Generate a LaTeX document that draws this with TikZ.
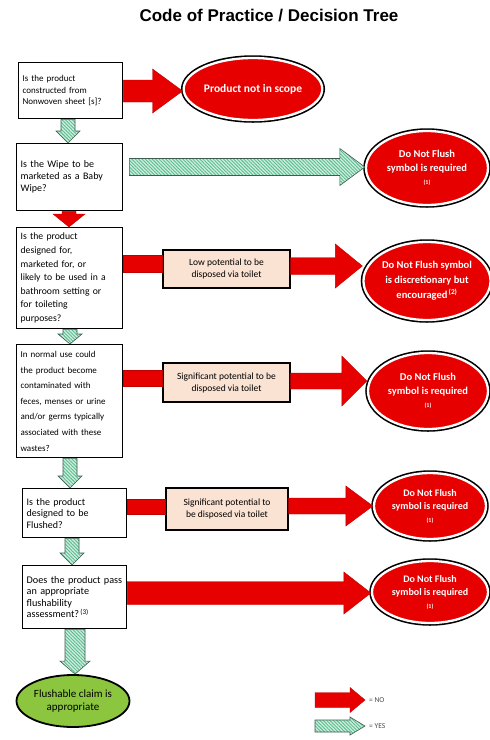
\documentclass[tikz,border=0pt]{standalone}
\usepackage{fontspec}
\setmainfont{Carlito}
\newfontfamily\titlefont{Liberation Sans}
\usetikzlibrary{shapes.geometric,patterns.meta,calc}
\definecolor{nored}{HTML}{E60000}
\definecolor{noedge}{HTML}{C00000}
\definecolor{yesfill}{HTML}{CDEFDF}
\definecolor{yesline}{HTML}{5DBB8F}
\definecolor{yesedge}{HTML}{3E5E50}
\definecolor{peach}{HTML}{FBE3D4}
\definecolor{okgreen}{HTML}{8CC63F}
% horizontal block arrow: style, from, to, y(px), shaft half, head half, head length
\newcommand\harr[7]{%
  \path[#1] let \p1=(#2), \p2=(#3) in
    ({\x1},{-#4pt+#5pt}) -- ({\x2-#7pt},{-#4pt+#5pt}) -- ({\x2-#7pt},{-#4pt+#6pt})
    -- ({\x2},{-#4pt}) -- ({\x2-#7pt},{-#4pt-#6pt}) -- ({\x2-#7pt},{-#4pt-#5pt})
    -- ({\x1},{-#4pt-#5pt}) -- cycle;}
% horizontal bar: style, from, to, y(px), half height
\newcommand\hbarr[5]{%
  \path[#1] let \p1=(#2), \p2=(#3) in
    ({\x1},{-#4pt+#5pt}) rectangle ({\x2},{-#4pt-#5pt});}
% vertical block arrow (down): style, from, to, x(px), shaft half, head half, head length
\newcommand\varr[7]{%
  \path[#1] let \p1=(#2), \p2=(#3) in
    ({#4pt-#5pt},{\y1}) -- ({#4pt-#5pt},{\y2+#7pt}) -- ({#4pt-#6pt},{\y2+#7pt})
    -- ({#4pt},{\y2}) -- ({#4pt+#6pt},{\y2+#7pt}) -- ({#4pt+#5pt},{\y2+#7pt})
    -- ({#4pt+#5pt},{\y1}) -- cycle;}
\begin{document}
\begin{tikzpicture}[x=1pt,y=-1pt,
  qbox/.style={draw=black, line width=1.3pt, fill=white, anchor=north west,
    inner sep=4pt, align=left, font=\fontsize{9}{11.5}\selectfont},
  lbox/.style={draw=black, line width=1.2pt, fill=peach, align=center,
    font=\fontsize{9.5}{12}\selectfont, inner sep=2pt},
  redell/.style={ellipse, preaction={draw=black, line width=5.5pt}, draw=white,
    line width=2.3pt, fill=nored, text=white, align=center, inner sep=0pt,
    font=\bfseries\fontsize{10.5}{13.5}\selectfont},
  greenell/.style={ellipse, draw=black, line width=1.8pt, fill=okgreen,
    align=center, inner sep=0pt, font=\fontsize{11}{13.5}\selectfont},
  noarrow/.style={fill=nored, draw=noedge, line width=0.4pt},
  yesarrow/.style={preaction={fill=yesfill}, draw=yesedge, line width=0.6pt,
    pattern={Lines[angle=-45,distance=2.4pt,line width=0.9pt]}, pattern color=yesline},
  legtext/.style={anchor=west, font=\fontsize{7.5}{9}\selectfont, text=black!70, inner sep=1pt}]
\useasboundingbox (0,0) rectangle (490,740);
\fill[white] (0,0) rectangle (490,740);

\node[font=\titlefont\bfseries\fontsize{17}{20}\selectfont] (title) at (269,16)
  {Code of Practice / Decision Tree};

% question boxes
\node[qbox, minimum width=104pt, minimum height=56pt, text width=96pt] (b1) at (18,62)
  {Is the product\\constructed from\\Nonwoven sheet [s]?};
\node[qbox, minimum width=106pt, minimum height=67pt, text width=98pt,
  font=\fontsize{10}{12}\selectfont] (b2) at (16,143)
  {Is the Wipe to be\\marketed as a Baby\\Wipe?};
\node[qbox, minimum width=106pt, minimum height=101pt, text width=98pt,
  font=\fontsize{9.7}{13.6}\selectfont] (b3) at (16,227)
  {Is the product\\designed for,\\marketed for, or\\likely to be used in a\\bathroom setting or\\for toileting\\purposes?};
\node[qbox, minimum width=106pt, minimum height=113pt, text width=98pt,
  font=\fontsize{9}{15.6}\selectfont] (b4) at (16,344)
  {In normal use could\\the product become\\contaminated with\\feces, menses or urine\\and/or germs typically\\associated with these\\wastes?};
\node[qbox, minimum width=104pt, minimum height=49pt, text width=96pt,
  font=\fontsize{10}{11.5}\selectfont] (b5) at (22,488)
  {Is the product\\designed to be\\Flushed?};
\node[qbox, minimum width=104pt, minimum height=63pt, text width=96pt,
  font=\fontsize{10.2}{11.5}\selectfont] (b6) at (22,565)
  {Does the product pass\\an appropriate\\flushability\\assessment?\textsuperscript{\,(3)}};

% label boxes
\node[lbox, minimum width=127pt, minimum height=38pt] (l3) at (226.5,269)
  {Low potential to be\\disposed via toilet};
\node[lbox, minimum width=127pt, minimum height=39pt] (l4) at (226.5,382.5)
  {Significant potential to be\\disposed via toilet};
\node[lbox, minimum width=122pt, minimum height=42pt] (l5) at (227,509)
  {Significant potential to\\be disposed via toilet};

% outcome ellipses
\node[redell, minimum width=123pt, minimum height=62pt,
  font=\bfseries\fontsize{11.5}{13.5}\selectfont] (e1) at (253,89)
  {Product not in scope};
\node[redell, minimum width=122pt, minimum height=74pt] (e2) at (427,168)
  {Do Not Flush\\symbol is required\\{\fontsize{6}{7}\selectfont(1)}};
\node[redell, minimum width=120pt, minimum height=78pt,
  font=\bfseries\fontsize{10.5}{15}\selectfont] (e3) at (427,281)
  {Do Not Flush symbol\\is discretionary but\\encouraged\textsuperscript{\,(2)}};
\node[redell, minimum width=120pt, minimum height=76pt] (e4) at (428,391)
  {Do Not Flush\\symbol is required\\{\fontsize{6}{7}\selectfont(1)}};
\node[redell, minimum width=112pt, minimum height=66pt,
  font=\bfseries\fontsize{10}{13}\selectfont] (e5) at (430,506)
  {Do Not Flush\\symbol is required\\{\fontsize{6}{7}\selectfont(1)}};
\node[redell, minimum width=116pt, minimum height=62pt,
  font=\bfseries\fontsize{10}{13}\selectfont] (e6) at (430,592)
  {Do Not Flush\\symbol is required\\{\fontsize{6}{7}\selectfont(1)}};
\node[greenell, minimum width=113pt, minimum height=52pt] (e7) at (73,701)
  {Flushable claim is\\appropriate};

% horizontal connectors
\harr{noarrow}{b1.east}{e1.west}{91}{11}{22}{30}
\harr{yesarrow}{$(b2.east)+(6,0)$}{e2.west}{167}{8.5}{18.5}{25}
\hbarr{noarrow}{b3.east}{l3.west}{264}{8.5}
\harr{noarrow}{l3.east}{e3.west}{266}{8.5}{22}{27}
\hbarr{noarrow}{b4.east}{l4.west}{378}{8}
\harr{noarrow}{l4.east}{e4.west}{381}{8}{25}{25}
\hbarr{noarrow}{b5.east}{l5.west}{507}{7.5}
\harr{noarrow}{l5.east}{e5.west}{506}{8}{20}{27}
\harr{noarrow}{b6.east}{e6.west}{593}{11.5}{21}{27}

% vertical connectors
\varr{yesarrow}{b1.south}{b2.north}{68}{7}{12}{12}
\varr{noarrow}{b2.south}{b3.north}{69}{7}{16}{13}
\varr{yesarrow}{b3.south}{b4.north}{70}{7}{12}{10}
\varr{yesarrow}{b4.south}{b5.north}{70}{7}{12}{12}
\varr{yesarrow}{b5.south}{b6.north}{72}{7}{12}{12}
\varr{yesarrow}{b6.south}{e7.north}{75}{10}{15}{13}

% legend
\coordinate (lr1) at (315,700);
\coordinate (lr2) at (365,700);
\coordinate (lg1) at (315,726);
\coordinate (lg2) at (365,726);
\harr{noarrow}{lr1}{lr2}{700}{7.5}{12.5}{15}
\harr{yesarrow}{lg1}{lg2}{726}{6}{9}{15}
\node[legtext] (tno) at (368,700) {= NO};
\node[legtext] (tyes) at (368,726) {= YES};
\end{tikzpicture}
\end{document}
